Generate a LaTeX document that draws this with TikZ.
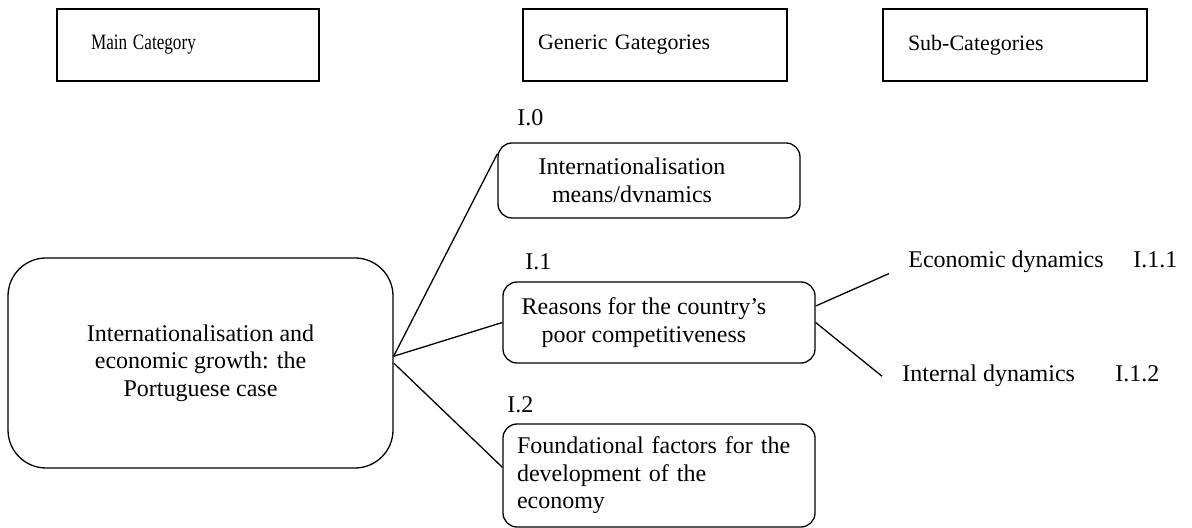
\documentclass[tikz,border=0pt]{standalone}
\usepackage{fontspec}
\setmainfont{Liberation Serif}
\usepackage{graphicx}
\usepackage{tikz}
\usetikzlibrary{positioning}
\newcommand\bodysize{\fontsize{12}{13.8}\selectfont}
\newcommand\headsize{\fontsize{11}{13}\selectfont}
\tikzset{
  headbox/.style={rectangle, draw, line width=1pt, minimum height=36pt,
    align=left, font=\headsize},
  catbox/.style={rectangle, draw, rounded corners=19pt, line width=0.65pt,
    minimum width=192.5pt, minimum height=105pt, align=center, font=\bodysize},
  genbox/.style={rectangle, draw, rounded corners=7pt, line width=0.65pt,
    minimum width=156pt, align=center, font=\bodysize},
  idlabel/.style={font=\bodysize, inner sep=0pt, anchor=base west},
  subtext/.style={font=\bodysize, inner sep=0pt, anchor=base west},
  link/.style={line width=0.65pt},
}

\begin{document}
\begin{tikzpicture}[x=0.5pt, y=-0.5pt]
\useasboundingbox (0,0) rectangle (1192,528);

\node[headbox, text width=97pt, inner xsep=17pt] (hmain) at (188,45) {\scalebox{0.78}[1]{Main Category}};
\node[headbox, text width=117pt, inner xsep=7.5pt] (hgen) at (655,45) {Generic Gategories};
\node[headbox, text width=107pt, inner xsep=12.5pt] (hsub) at (1015,45) {Sub-Categories};

\node[catbox] (cat) at (200.5,363)
  {Internationalisation and\\economic growth: the\\Portuguese case};

\node[genbox, minimum width=151pt, minimum height=37.5pt] (gen0) at (649,180.5)
  {Internationalisation\hspace*{17pt}\\means/dvnamics\hspace*{17pt}};
\node[idlabel] (l0) at (517,126) {I.0};

\node[genbox, minimum height=40.5pt] (gen1) at (659,322.5)
  {Reasons for the country’s\hspace*{15pt}\\poor competitiveness\hspace*{15pt}};
\node[idlabel] (l1) at (525,270) {I.1};

\node[genbox, minimum height=51.5pt, align=left, text width=142pt, inner xsep=7pt] (gen2) at (659,475.5)
  {Foundational factors for the\\development of the\\economy};
\node[idlabel] (l2) at (507,413) {I.2};

\node[subtext] (sub1) at (908,268) {Economic dynamics};
\node[idlabel] (l11) at (1133,268) {I.1.1};
\node[subtext] (sub2) at (902,382) {Internal dynamics};
\node[idlabel] (l12) at (1115,382) {I.1.2};

\draw[link] (cat.2) -- (gen0.170);
\draw[link] (cat.2) -- (gen1.west);
\draw[link] (cat.east) -- (gen2.177);
\draw[link] (gen1.6) -- ([xshift=-9.5pt]sub1.south west);
\draw[link] (gen1.east) -- ([xshift=-10pt]sub2.west);

\end{tikzpicture}
\end{document}
